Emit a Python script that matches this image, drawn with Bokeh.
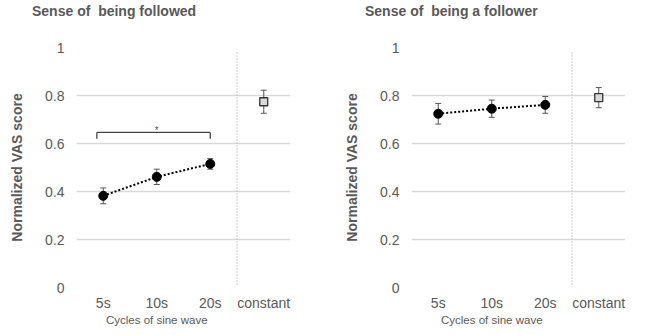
from bokeh.plotting import figure
from bokeh.models import Range1d, FixedTicker, Whisker, ColumnDataSource, Label, TeeHead, LinearAxis, Div
from bokeh.layouts import row, column
from bokeh.embed import file_html
from bokeh.resources import INLINE

categories = ["5s", "10s", "20s", "constant"]
y_ticks = [0, 0.2, 0.4, 0.6, 0.8, 1]
y_tick_labels = ["0", "0.2", "0.4", "0.6", "0.8", "1"]

followed_mean = [0.382, 0.461, 0.515, 0.774]
followed_err = [0.033, 0.032, 0.022, 0.048]
follower_mean = [0.724, 0.745, 0.761, 0.791]
follower_err = [0.043, 0.036, 0.035, 0.042]

titles = ["Sense of  being followed", "Sense of  being a follower"]
y_title = "Normalized VAS score"
x_title = "Cycles of sine wave"
signif_text = "*"
signif_pair = [1, 3]

FONT = "Liberation Sans"
GRAY = "#595959"
TITLE_H = 22


def make_title(text, width, pad_left):
    return Div(text=text, width=width, height=TITLE_H,
               styles={"font-family": FONT, "font-size": "14px", "font-weight": "bold",
                       "color": GRAY, "padding-left": f"{pad_left}px", "padding-top": "3px",
                       "margin": "0", "white-space": "pre", "line-height": "16px"})


def make_panel(mean, err, border_left, border_right, bracket):
    xs = list(range(1, len(categories) + 1))
    p = figure(width=border_left + 214 + border_right, height=333 - TITLE_H,
               x_range=Range1d(0.5, 4.5), y_range=Range1d(0, 1),
               output_backend="svg", toolbar_location=None,
               min_border_left=border_left, min_border_right=border_right,
               min_border_top=47 - TITLE_H, min_border_bottom=46)
    p.outline_line_color = None
    p.background_fill_color = "white"
    p.border_fill_color = "white"

    # axes
    p.xaxis.ticker = FixedTicker(ticks=xs)
    p.xaxis.major_label_overrides = {x: c for x, c in zip(xs, categories)}
    p.yaxis.ticker = FixedTicker(ticks=y_ticks)
    p.yaxis.major_label_overrides = {t: l for t, l in zip(y_ticks, y_tick_labels)}
    # extra axis carrying the x title, centred under the sine-wave conditions
    xt = LinearAxis(ticker=FixedTicker(ticks=[2]), major_label_overrides={2: x_title})
    p.add_layout(xt, "below")
    for ax in (p.xaxis[0], p.yaxis[0], xt):
        ax.axis_line_color = None
        ax.major_tick_line_color = None
        ax.minor_tick_line_color = None
        ax.major_tick_out = 0
        ax.major_tick_in = 0
        ax.minor_tick_out = 0
        ax.minor_tick_in = 0
        ax.major_label_text_font = FONT
        ax.major_label_text_font_size = "14px"
        ax.major_label_text_color = GRAY
    xt.major_label_text_font_size = "11.5px"
    xt.major_label_standoff = 0
    p.yaxis.major_label_standoff = 12
    p.xaxis[0].major_label_standoff = 7
    p.yaxis.axis_label = y_title
    p.yaxis.axis_label_text_font = FONT
    p.yaxis.axis_label_text_font_size = "14px"
    p.yaxis.axis_label_text_font_style = "bold"
    p.yaxis.axis_label_text_color = GRAY
    p.yaxis.axis_label_standoff = 17

    p.xgrid.grid_line_color = None
    p.ygrid.grid_line_color = "#d9d9d9"
    p.ygrid.grid_line_width = 1.3

    # divider
    p.segment(x0=[3.5], y0=[0.012], x1=[3.5], y1=[0.988],
              line_color="#b0b0b0", line_width=1.2, line_dash="1 2")

    # error bars
    src = ColumnDataSource(dict(x=xs, lo=[m - e for m, e in zip(mean, err)],
                                hi=[m + e for m, e in zip(mean, err)]))
    w = Whisker(source=src, base="x", lower="lo", upper="hi", dimension="height",
                line_color="#555555", line_width=1,
                upper_head=TeeHead(size=6, line_color="#555555", line_width=1),
                lower_head=TeeHead(size=6, line_color="#555555", line_width=1))
    p.add_layout(w)

    # dotted trend line + markers
    p.line(xs[:3], mean[:3], line_color="black", line_width=2, line_dash="2 2")
    p.scatter(xs[:3], mean[:3], size=9, fill_color="black", line_color="black")
    p.scatter(xs[3:], mean[3:], marker="square", size=8,
              fill_color="#d9d9d9", line_color="#333333", line_width=1.3)

    if bracket:
        a, b = signif_pair
        x0 = a - 0.12
        x1 = float(b)
        ytop = 0.646
        ybot = 0.62
        p.segment(x0=[x0, x0, x1], y0=[ytop, ytop, ytop], x1=[x1, x0, x1], y1=[ytop, ybot, ybot],
                  line_color="#444444", line_width=1.3)
        p.add_layout(Label(x=(a + b) / 2, y=0.656, text=signif_text,
                           text_font=FONT, text_font_size="10px", text_color=GRAY,
                           text_align="center", text_baseline="alphabetic"))
    return p


p1 = make_panel(followed_mean, followed_err, 76, 38, True)
p2 = make_panel(follower_mean, follower_err, 83, 16, False)
t1 = make_title(titles[0], p1.width, 32)
t2 = make_title(titles[1], p2.width, 37)
layout = column(row(t1, t2), row(p1, p2))

open("out.html", "w").write(file_html(layout, INLINE))
